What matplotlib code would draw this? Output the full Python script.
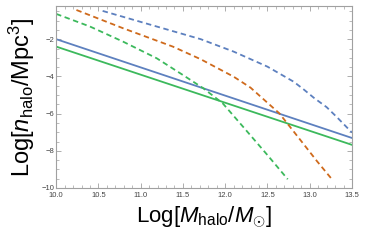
# -*- coding: utf-8 -*-

import matplotlib
matplotlib.use("Agg")
import matplotlib.pyplot as plt
from matplotlib.ticker import MultipleLocator

# solid lines (power law)
solid_x = [10.0, 13.5]
solid_blue_y = [-1.99, -7.31]
solid_green_y = [-2.39, -7.68]

# dashed curves
blue_dash_x = [10.55, 11.19, 11.71, 12.10, 12.50, 12.81, 12.93, 13.05, 13.20, 13.32, 13.50]
blue_dash_y = [-0.47, -1.31, -1.99, -2.66, -3.47, -4.28, -4.70, -5.15, -5.65, -6.18, -7.02]

orange_dash_x = [10.24, 10.79, 11.38, 11.71, 12.10, 12.30, 12.44, 12.64, 12.89, 13.09, 13.27]
orange_dash_y = [-0.42, -1.40, -2.39, -3.07, -4.01, -4.60, -5.17, -5.98, -7.42, -8.58, -9.57]

green_dash_x = [10.0, 10.40, 10.79, 11.19, 11.50, 11.74, 11.97, 12.22, 12.50, 12.74]
green_dash_y = [-0.63, -1.31, -2.12, -3.02, -3.92, -4.63, -5.44, -6.75, -8.23, -9.53]

BLUE = "#5d80bf"
ORANGE = "#cf6a1c"
GREEN = "#3cb95c"


def set_display(fig, ax):
    fig.subplots_adjust(left=0.153, right=0.959, bottom=0.236, top=0.976)
    for s in ax.spines.values():
        s.set_color("#a0a0a0")
        s.set_linewidth(0.8)
    ax.set_xlim(10.0, 13.5)
    ax.set_ylim(-10.0, -0.2)
    ax.xaxis.set_major_locator(MultipleLocator(0.5))
    ax.xaxis.set_minor_locator(MultipleLocator(0.1))
    ax.yaxis.set_major_locator(MultipleLocator(2))
    ax.yaxis.set_minor_locator(MultipleLocator(0.5))
    ax.xaxis.set_major_formatter(matplotlib.ticker.FormatStrFormatter("%.1f"))
    ax.yaxis.set_major_formatter(
        matplotlib.ticker.FuncFormatter(lambda v, p: "\u2212%d" % abs(v) if v < 0 else "%d" % v))
    ax.tick_params(which="both", direction="in", top=True, right=True,
                   color="#a0a0a0", labelsize=5.5, labelcolor="#444444", pad=1.5)
    ax.tick_params(axis="x", which="major", pad=3)
    ax.tick_params(which="major", length=3.5, width=0.6)
    ax.tick_params(which="minor", length=2, width=0.5)

    ax.set_xlabel(r"Log[$M_{\rm halo}$/$M_{\odot}$]", fontsize=16, labelpad=4)
    ax.set_ylabel(r"Log[$n_{\rm halo}$/Mpc$^3$]", fontsize=17, labelpad=3)


def main():
    plt.rcParams["font.family"] = ["Liberation Sans", "DejaVu Sans"]
    plt.rcParams["mathtext.fontset"] = "custom"
    plt.rcParams["mathtext.rm"] = "Liberation Sans"
    plt.rcParams["mathtext.it"] = "Liberation Sans:italic"

    fig = plt.figure(figsize=(3.67, 2.46), dpi=100)
    ax = fig.add_subplot(1, 1, 1)

    ax.plot(solid_x, solid_blue_y, color=BLUE, lw=1.3)
    ax.plot(solid_x, solid_green_y, color=GREEN, lw=1.3)
    ax.plot(blue_dash_x, blue_dash_y, color=BLUE, lw=1.3, dashes=(3, 2))
    ax.plot(orange_dash_x, orange_dash_y, color=ORANGE, lw=1.3, dashes=(3, 2))
    ax.plot(green_dash_x, green_dash_y, color=GREEN, lw=1.3, dashes=(3, 2))

    set_display(fig, ax)

    fig.savefig("out.png", dpi=100)


if __name__ == '__main__':
    main()
